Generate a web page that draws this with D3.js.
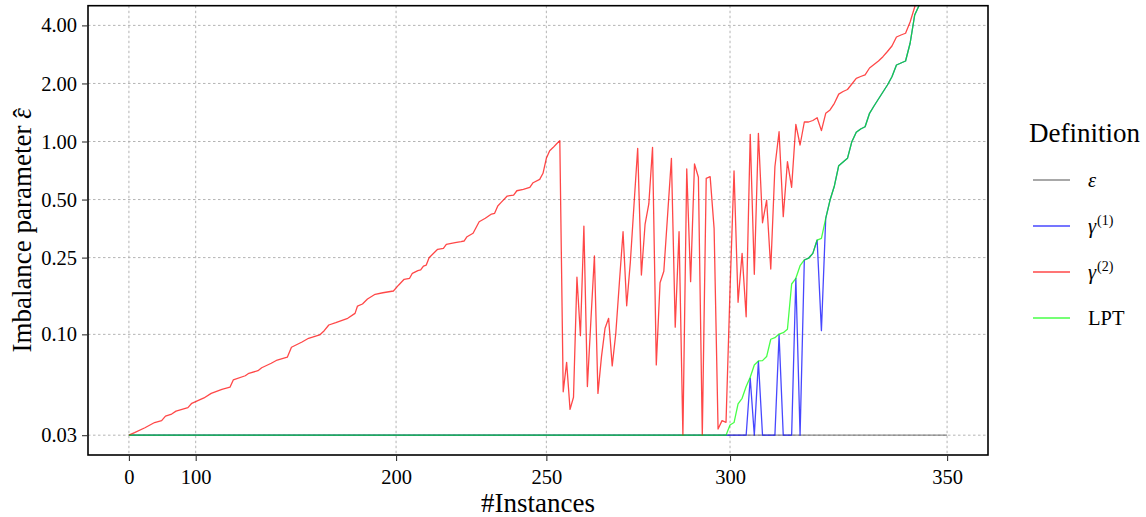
<!DOCTYPE html>
<html>
<head>
<meta charset="utf-8">
<script src="https://cdn.jsdelivr.net/npm/d3@7"></script>
<style>
  html, body { margin: 0; padding: 0; background: #ffffff; }
  svg { display: block; font-family: "Liberation Serif", "Times New Roman", serif; }
</style>
</head>
<body>
<svg id="chart" width="1146" height="517"></svg>
<script>
// Imbalance parameter per instance, one [instance, value] list per definition.
const xTicks = [0, 100, 200, 250, 300, 350];
const yTicks = [0.03, 0.10, 0.25, 0.50, 1.00, 2.00, 4.00];

const epsilonSeries = [[0, 0.03], [350, 0.03]];

const gamma1Series = [
  [0, 0.03], [304, 0.03], [305, 0.0592], [306, 0.03], [307, 0.0725], [308, 0.03],
  [311, 0.03], [312, 0.0993], [313, 0.03], [315, 0.03], [316, 0.1953], [317, 0.03],
  [318, 0.2430], [319, 0.2482], [320, 0.2631], [321, 0.3083], [322, 0.1045], [323, 0.3997],
  [324, 0.4971], [325, 0.588], [326, 0.749], [327, 0.783], [328, 0.818], [329, 0.998],
  [330, 1.116], [331, 1.161], [332, 1.193], [333, 1.400], [334, 1.528], [335, 1.661],
  [336, 1.806], [337, 1.963], [338, 2.168], [339, 2.493], [340, 2.553], [341, 2.615],
  [342, 3.231], [343, 4.529], [344, 5.10], [345, 6.2]
];

const gamma2Series = [
  [0, 0.030], [29, 0.0309], [49, 0.0328], [62, 0.0349], [70, 0.0357], [74, 0.0377],
  [80, 0.0386], [84, 0.0400], [94, 0.0417], [97, 0.0439], [106, 0.0468], [111, 0.0494],
  [118, 0.0519], [123, 0.0532], [125, 0.0580], [132, 0.0610], [134, 0.0628], [139, 0.0648],
  [141, 0.0671], [146, 0.0708], [149, 0.0736], [154, 0.0761], [156, 0.0857], [161, 0.0913],
  [164, 0.0954], [169, 0.0993], [171, 0.1045], [173, 0.1118], [176, 0.1150], [181, 0.1211],
  [184, 0.1285], [185, 0.1402], [187, 0.1437], [189, 0.1525], [192, 0.1613], [195, 0.1643],
  [199, 0.1678], [201, 0.1804], [203, 0.1930], [205, 0.1953], [206, 0.2073], [208, 0.2139],
  [209, 0.2157], [210, 0.2261], [211, 0.2288], [212, 0.2497], [215, 0.2760], [217, 0.2793],
  [218, 0.2930], [221, 0.2987], [223, 0.3023], [224, 0.3048], [225, 0.3209], [227, 0.3344],
  [229, 0.3836], [231, 0.3997], [233, 0.4206], [234, 0.4241], [235, 0.4631], [236, 0.4820],
  [238, 0.5214], [240, 0.5276], [241, 0.5554], [243, 0.5651], [245, 0.5786], [246, 0.6113],
  [248, 0.6366], [249, 0.6841], [250, 0.8184], [251, 0.8963], [252, 0.93], [253, 0.97],
  [254, 1.01], [255, 0.0504], [256, 0.0716], [257, 0.0408], [258, 0.0472], [259, 0.1977],
  [260, 0.0985], [261, 0.3643], [262, 0.0536], [263, 0.118], [264, 0.2549], [265, 0.0494],
  [266, 0.0767], [267, 0.1076], [268, 0.1211], [269, 0.0686], [270, 0.1013], [271, 0.187],
  [272, 0.3406], [273, 0.1406], [274, 0.237], [275, 0.47], [276, 0.922], [277, 0.2031],
  [278, 0.3732], [279, 0.4743], [280, 0.933], [281, 0.0694], [282, 0.1853], [283, 0.2124],
  [284, 0.4156], [285, 0.818], [286, 0.1089], [287, 0.3406], [288, 0.03], [289, 0.7201],
  [290, 0.1876], [291, 0.7643], [292, 0.6523], [293, 0.03], [294, 0.6445], [295, 0.6571],
  [296, 0.3546], [297, 0.0323], [298, 0.0357], [299, 0.0350], [300, 0.1698], [301, 0.703],
  [302, 0.1466], [303, 0.2631], [304, 0.1234], [305, 1.090], [306, 0.2048], [307, 1.103],
  [308, 0.379], [309, 0.497], [310, 0.218], [311, 0.740], [312, 1.124], [313, 0.4075],
  [314, 0.7856], [315, 0.5786], [316, 1.228], [317, 0.959], [318, 1.262], [319, 1.262],
  [320, 1.285], [321, 1.329], [322, 1.138], [323, 1.400], [324, 1.457], [325, 1.578],
  [326, 1.76], [327, 1.817], [328, 1.861], [329, 1.987], [330, 2.127], [331, 2.173],
  [332, 2.218], [333, 2.405], [334, 2.507], [335, 2.615], [336, 2.753], [337, 2.929],
  [338, 3.127], [339, 3.483], [340, 3.567], [341, 3.641], [342, 4.166], [343, 4.983],
  [344, 6.0]
];

const lptSeries = [
  [0, 0.03], [299, 0.03], [300, 0.0339], [301, 0.0349], [302, 0.0436], [303, 0.0466],
  [304, 0.0536], [305, 0.0599], [306, 0.0694], [307, 0.0728], [308, 0.0731], [309, 0.0767],
  [310, 0.0943], [311, 0.0961], [312, 0.1004], [313, 0.1020], [314, 0.1063], [315, 0.1824],
  [316, 0.1953], [317, 0.2269], [318, 0.2430], [319, 0.2482], [320, 0.2631], [321, 0.3083],
  [322, 0.3147], [323, 0.3997], [324, 0.4971], [325, 0.588], [326, 0.749], [327, 0.783],
  [328, 0.818], [329, 0.998], [330, 1.116], [331, 1.161], [332, 1.193], [333, 1.400],
  [334, 1.528], [335, 1.661], [336, 1.806], [337, 1.963], [338, 2.168], [339, 2.493],
  [340, 2.553], [341, 2.615], [342, 3.231], [343, 4.529], [344, 5.10], [345, 6.2]
];

const seriesList = [
  { key: "epsilon", points: epsilonSeries, color: "#5f5f5f", label: "ε", sup: null, italic: true },
  { key: "gamma1", points: gamma1Series, color: "#0000ff", label: "γ", sup: "(1)", italic: true },
  { key: "gamma2", points: gamma2Series, color: "#ff0000", label: "γ", sup: "(2)", italic: true },
  { key: "lpt", points: lptSeries, color: "#00ff00", label: "LPT", sup: null, italic: false }
];

const lineAlpha = 0.72;
const lineWidth = 1.3;

const svg = d3.select("#chart");
const panel = { left: 88, right: 988, top: 5.7, bottom: 455 };

// Squared x axis with 5% padding in the transformed space
const xMax = 350;
const xPad = 0.05 * xMax * xMax;
const x = d3.scalePow().exponent(2)
  .domain([-Math.sqrt(xPad), Math.sqrt(xMax * xMax + xPad)])
  .range([panel.left, panel.right]);

const y = d3.scaleLog()
  .domain([0.02368, 5.06])
  .range([panel.bottom, panel.top]);

// grid
const grid = svg.append("g").attr("class", "grid")
  .attr("stroke", "#b4b4b4").attr("stroke-width", 1).attr("stroke-dasharray", "2.5,2.5");
grid.selectAll("line.v").data(xTicks).join("line").attr("class", "v")
  .attr("x1", d => x(d)).attr("x2", d => x(d))
  .attr("y1", panel.top).attr("y2", panel.bottom);
grid.selectAll("line.h").data(yTicks).join("line").attr("class", "h")
  .attr("x1", panel.left).attr("x2", panel.right)
  .attr("y1", d => y(d)).attr("y2", d => y(d));

// lines
svg.append("clipPath").attr("id", "panel-clip").append("rect")
  .attr("x", panel.left).attr("y", panel.top)
  .attr("width", panel.right - panel.left).attr("height", panel.bottom - panel.top);

const line = d3.line().x(d => x(d[0])).y(d => y(d[1]));
svg.append("g").attr("clip-path", "url(#panel-clip)")
  .selectAll("path").data(seriesList).join("path")
  .attr("d", d => line(d.points))
  .attr("fill", "none")
  .attr("stroke", d => d.color)
  .attr("stroke-opacity", lineAlpha)
  .attr("stroke-width", lineWidth)
  .attr("stroke-linejoin", "round");

// panel border
svg.append("rect")
  .attr("x", panel.left).attr("y", panel.top)
  .attr("width", panel.right - panel.left).attr("height", panel.bottom - panel.top)
  .attr("fill", "none").attr("stroke", "#000").attr("stroke-width", 1.6);

// axes
const tickFont = "20.5px";
const xAxis = svg.append("g").attr("transform", `translate(0,${panel.bottom})`)
  .call(d3.axisBottom(x).tickValues(xTicks).tickFormat(d3.format("d")).tickSize(6).tickPadding(8.5));
const yAxis = svg.append("g").attr("transform", `translate(${panel.left},0)`)
  .call(d3.axisLeft(y).tickValues(yTicks).tickFormat(d3.format(".2f")).tickSize(6).tickPadding(5));
[xAxis, yAxis].forEach(a => {
  a.select(".domain").remove();
  a.selectAll(".tick line").attr("stroke", "#333").attr("stroke-width", 1.1);
  a.selectAll(".tick text").attr("fill", "#000")
    .style("font-family", "'Liberation Serif', serif").style("font-size", tickFont);
});

// axis titles
svg.append("text")
  .attr("x", (panel.left + panel.right) / 2).attr("y", 512)
  .attr("text-anchor", "middle").attr("font-size", "27px").attr("fill", "#000")
  .text("#Instances");

const yTitle = svg.append("text")
  .attr("transform", `translate(31,${(panel.top + panel.bottom) / 2}) rotate(-90)`)
  .attr("text-anchor", "middle").attr("font-size", "27px").attr("fill", "#000");
yTitle.append("tspan").text("Imbalance parameter ");
yTitle.append("tspan").attr("font-style", "italic").text("ε");
// circumflex accent placed over the epsilon
yTitle.append("tspan").attr("dx", "-0.36em").attr("dy", "0.02em").text("\u02C6");

// legend
const legend = svg.append("g");
legend.append("text").attr("x", 1029).attr("y", 141.5)
  .attr("font-size", "27px").attr("fill", "#000").text("Definition");

const keyY0 = 180, keyStep = 46;
const items = legend.selectAll("g.item").data(seriesList).join("g").attr("class", "item")
  .attr("transform", (d, i) => `translate(0,${keyY0 + i * keyStep})`);
items.append("line")
  .attr("x1", 1033).attr("x2", 1070).attr("y1", 0).attr("y2", 0)
  .attr("stroke", d => d.color).attr("stroke-opacity", lineAlpha).attr("stroke-width", lineWidth);
const labels = items.append("text").attr("x", 1088).attr("y", 7)
  .attr("font-size", "20.5px").attr("fill", "#000");
labels.append("tspan")
  .attr("font-style", d => d.italic ? "italic" : "normal")
  .text(d => d.label);
labels.filter(d => d.sup).append("tspan")
  .attr("font-size", "14px").attr("dy", -8).attr("dx", 1)
  .text(d => d.sup);
</script>
</body>
</html>
